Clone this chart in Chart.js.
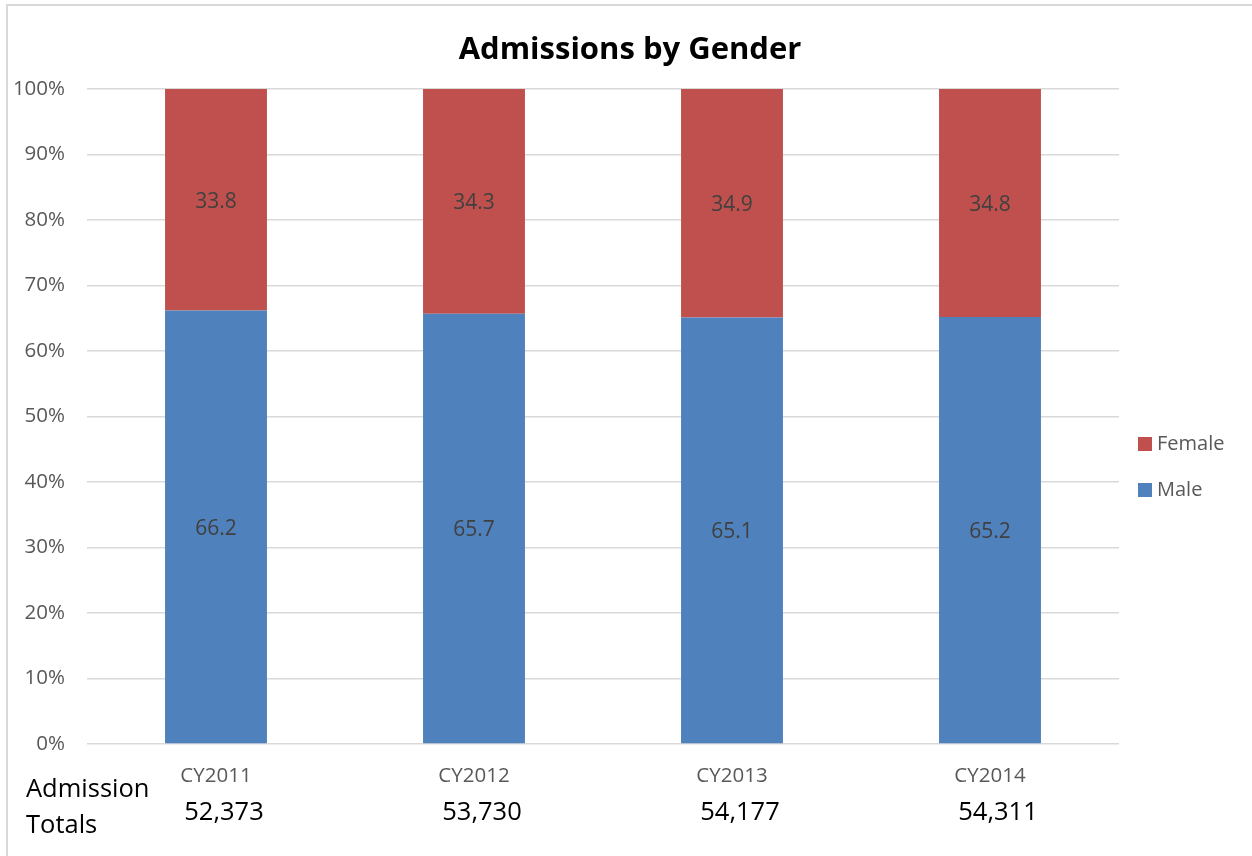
<!DOCTYPE html>
<html>
<head>
<meta charset="utf-8">
<script src="https://cdn.jsdelivr.net/npm/chart.js@4.4.1/dist/chart.umd.min.js"></script>
<style>
html,body{margin:0;padding:0;background:#fff;}
#wrap{position:relative;width:1252px;height:856px;}
#frame{position:absolute;left:6px;top:4px;right:0;bottom:0;border-left:2px solid #D9D9D9;border-top:2px solid #D9D9D9;pointer-events:none;}
canvas{position:absolute;left:0;top:0;}
</style>
</head>
<body>
<div id="wrap"><canvas id="c" width="1252" height="856"></canvas><div id="frame"></div></div>
<script>
const categories = ["CY2011", "CY2012", "CY2013", "CY2014"];
const maleValues = [66.2, 65.7, 65.1, 65.2];
const femaleValues = [33.8, 34.3, 34.9, 34.8];
const admissionTotals = ["52,373", "53,730", "54,177", "54,311"];
const yTickLabels = ["0%","10%","20%","30%","40%","50%","60%","70%","80%","90%","100%"];
const chartTitle = "Admissions by Gender";

const FONT = "'Open Sans', sans-serif";

const extrasPlugin = {
  id: 'extras',
  afterDatasetsDraw(chart) {
    const ctx = chart.ctx;
    ctx.save();
    ctx.font = "21px " + FONT;
    ctx.fillStyle = "#404040";
    ctx.textAlign = "center";
    ctx.textBaseline = "middle";
    chart.data.datasets.forEach((ds, di) => {
      const meta = chart.getDatasetMeta(di);
      meta.data.forEach((el, i) => {
        const mid = (el.y + el.base) / 2;
        ctx.fillText(ds.data[i].toFixed(1), el.x, mid + 2);
      });
    });
    ctx.restore();
  },
  afterDraw(chart) {
    const ctx = chart.ctx;
    const xs = chart.scales.x;
    const area = chart.chartArea;
    ctx.save();
    // Title
    ctx.font = "bold 31px " + FONT;
    ctx.fillStyle = "#000";
    ctx.textAlign = "center";
    ctx.textBaseline = "middle";
    ctx.fillText(chartTitle, chart.width / 2 + 4, 50);
    // Admission totals
    ctx.font = "25.5px " + FONT;
    ctx.fillStyle = "#000";
    ctx.textAlign = "left";
    ctx.fillText("Admission", 26, area.bottom + 46);
    ctx.fillText("Totals", 26, area.bottom + 82);
    ctx.textAlign = "center";
    admissionTotals.forEach((t, i) => {
      ctx.fillText(t, xs.getPixelForValue(i) + 8, area.bottom + 69);
    });
    // Legend (reverse order)
    ctx.font = "20px " + FONT;
    ctx.textAlign = "left";
    const items = chart.data.datasets.map((d) => ({label: d.label, color: d.backgroundColor})).reverse();
    const lx = area.right + 19;
    let ly = 444;
    items.forEach((it) => {
      ctx.fillStyle = it.color;
      ctx.fillRect(lx, ly - 7, 14, 14);
      ctx.fillStyle = "#595959";
      ctx.fillText(it.label, lx + 19, ly);
      ly += 46;
    });
    ctx.restore();
  }
};

new Chart(document.getElementById('c'), {
  type: 'bar',
  data: {
    labels: categories,
    datasets: [
      { label: 'Male', data: maleValues, backgroundColor: '#4F81BD', borderWidth: 0 },
      { label: 'Female', data: femaleValues, backgroundColor: '#C0504D', borderWidth: 0 }
    ]
  },
  options: {
    responsive: false,
    animation: false,
    devicePixelRatio: 1,
    layout: { padding: { left: 0, right: 133, top: 89, bottom: 0 } },
    plugins: {
      legend: { display: false },
      tooltip: { enabled: false },
      title: { display: false }
    },
    datasets: { bar: { categoryPercentage: 1, barPercentage: 0.395 } },
    scales: {
      x: {
        stacked: true,
        grid: { display: false, drawTicks: false },
        border: { display: false },
        ticks: { color: '#595959', font: { family: FONT, size: 20.5 }, padding: 20 },
        afterFit(s) { s.height = 112; }
      },
      y: {
        stacked: true,
        min: 0,
        max: 100,
        grid: { color: '#D9D9D9', lineWidth: 1.5, drawTicks: false },
        border: { display: false },
        ticks: {
          stepSize: 10,
          color: '#595959',
          font: { family: FONT, size: 20.5 },
          padding: 22,
          callback: (v) => yTickLabels[Math.round(v / 10)]
        },
        afterFit(s) { s.width = 87; }
      }
    }
  },
  plugins: [extrasPlugin]
});
</script>
</body>
</html>
